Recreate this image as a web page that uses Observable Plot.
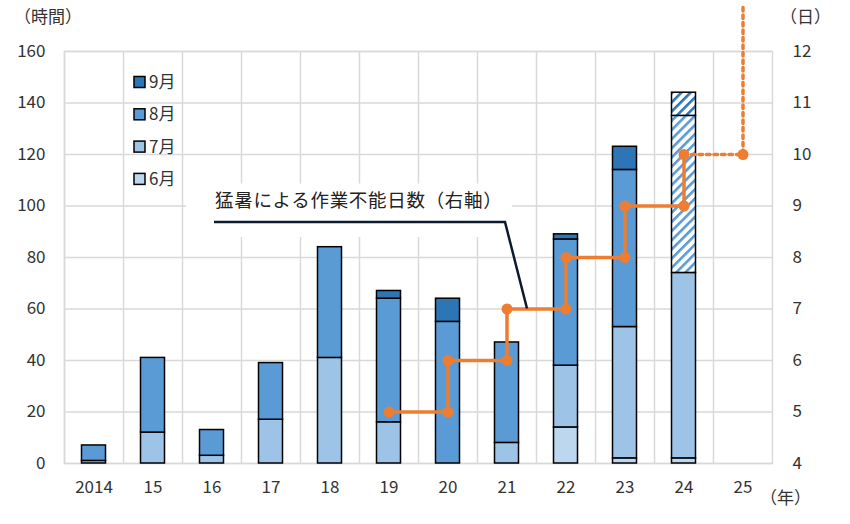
<!DOCTYPE html>
<html><head><meta charset="utf-8">
<script src="https://cdn.jsdelivr.net/npm/d3@7"></script>
<script src="https://cdn.jsdelivr.net/npm/@observablehq/plot@0.6"></script>
<style>
body{margin:0;background:#fff;}
#chart{width:850px;height:524px;}
</style></head><body><div id="chart"></div>
<script>
// ---- data ----
const years = ["2014","15","16","17","18","19","20","21","22","23","24","25"];
const jun = [0,0,0,0,0,0,0,0,14,2,2,0];
const jul = [1,12,3,17,41,16,0,8,24,51,72,0];
const aug = [6,29,10,22,43,48,55,39,49,61,61,0];
const sep = [0,0,0,0,0,3,9,0,2,9,9,0];
const hatchedYear = "24";
const months = ["6月","7月","8月","9月"];
const monthColors = ["#BDD7EE","#9DC3E6","#5B9BD5","#2E75B6"];
const lineYears = ["19","20","20","21","21","22","22","23","23","24","24"];
const lineDays = [5,5,6,6,7,7,8,8,9,9,10];
const dotYears = ["24","25","25"];
const dotDays = [10,10,12.9];
const leftTicks = [0,20,40,60,80,100,120,140,160];
const rightTicks = [4,5,6,7,8,9,10,11,12];
const annotationText = "猛暑による作業不能日数（右軸）";
const leftTitle = "（時間）", rightTitle = "（日）", xTitle = "（年）";

// ---- build tables ----
const series = [jun, jul, aug, sep];
const bars = [];
years.forEach((yr, i) => {
  series.forEach((s, m) => {
    if (s[i] > 0) {
      let fill = monthColors[m];
      if (yr === hatchedYear && m === 2) fill = "url(#hatch8)";
      if (yr === hatchedYear && m === 3) fill = "url(#hatch9)";
      bars.push({year: yr, month: months[m], value: s[i], fill});
    }
  });
});
const H = d => (d - 4) * 20; // right axis (days) -> left axis (hours)
const lineData = lineYears.map((y, i) => ({year: y, days: lineDays[i]}));
const dotData = dotYears.map((y, i) => ({year: y, days: dotDays[i]}));
const orange = "#ED7D31";
const grid = "#d9d9d9";
const font = "'Noto Sans CJK JP', 'Noto Sans', sans-serif";

const plot = Plot.plot({
  width: 850, height: 524,
  marginLeft: 64, marginRight: 78, marginTop: 51, marginBottom: 61,
  style: {fontFamily: font, fontSize: "17px", color: "#333", background: "white", overflow: "visible"},
  x: {domain: years, padding: 0, label: null},
  y: {domain: [0, 160], label: null},
  color: {type: "identity"},
  marks: [
    Plot.ruleY(leftTicks, {stroke: grid, strokeWidth: 1.5}),
    Plot.ruleX(years, {x: d => d, dx: -29.5, stroke: grid, strokeWidth: 1.5}),
    Plot.frame({stroke: grid, strokeWidth: 1.5}),
    Plot.axisX({tickSize: 0, tickPadding: 17, label: null, fontSize: 17}),
    Plot.axisY(leftTicks, {tickSize: 0, tickPadding: 19, label: null, fontSize: 17}),
    Plot.axisY(rightTicks.map(H), {anchor: "right", tickFormat: d => d / 20 + 4, tickSize: 0, tickPadding: 20, label: null, fontSize: 17}),
    Plot.barY(bars, {x: "year", y: "value", fill: "fill", stroke: "black", strokeWidth: 1.5, insetLeft: 17.5, insetRight: 17.5}),
    Plot.line(lineData, {x: "year", y: d => H(d.days), stroke: orange, strokeWidth: 3.5}),
    Plot.line(dotData, {x: "year", y: d => H(d.days), stroke: orange, strokeWidth: 3.5, strokeDasharray: "3.5,4", clip: false}),
    Plot.dot(lineData, {x: "year", y: d => H(d.days), r: 5.5, fill: orange}),
    Plot.dot(dotData.slice(1, 2), {x: "year", y: d => H(d.days), r: 5.5, fill: orange})
  ]
});
document.getElementById("chart").appendChild(plot);

// ---- patterns ----
const svg = d3.select(plot);
const defs = svg.insert("defs", ":first-child");
[["hatch8", "#5B9BD5"], ["hatch9", "#2E75B6"]].forEach(([id, c]) => {
  const p = defs.append("pattern").attr("id", id).attr("patternUnits", "userSpaceOnUse")
    .attr("width", 6.5).attr("height", 6.5).attr("patternTransform", "rotate(45)");
  p.append("rect").attr("width", 6.5).attr("height", 6.5).attr("fill", "white");
  p.append("rect").attr("width", 2.6).attr("height", 6.5).attr("fill", c);
});

// ---- annotation ----
const xs = plot.scale("x"), ys = plot.scale("y");
const bs = k => xs.apply(k); // band start
const ann = svg.append("g").attr("text-anchor", "start");
ann.append("rect")
  .attr("x", bs("16") + 4).attr("y", ys.apply(108.5))
  .attr("width", bs("21") + 35 - (bs("16") + 4)).attr("height", ys.apply(87.8) - ys.apply(108.5))
  .attr("fill", "white");
ann.append("text").attr("x", bs("16") + 33).attr("y", ys.apply(102)).attr("dy", "0.35em")
  .attr("font-family", font).attr("font-size", 18.5).attr("letter-spacing", "0.7px").attr("fill", "#222").text(annotationText);
ann.append("path")
  .attr("d", `M${bs("16") + 32},${ys.apply(93.6)}L${bs("21") + 28},${ys.apply(93.6)}L${bs("21") + 50},${ys.apply(H(7))}`)
  .attr("fill", "none").attr("stroke", "#0d1a2b").attr("stroke-width", 2.5);

// ---- legend ----
const leg = svg.append("g").attr("font-family", font).attr("font-size", 17).attr("fill", "#333").attr("text-anchor", "start");
const legRows = [3, 2, 1, 0];
legRows.forEach((m, i) => {
  const cy = 82 + i * 32.3;
  leg.append("rect").attr("x", bs("15") + 11).attr("y", cy - 5.5).attr("width", 11).attr("height", 11)
    .attr("fill", monthColors[m]).attr("stroke", "black").attr("stroke-width", 1.5);
  leg.append("text").attr("x", bs("15") + 26).attr("y", cy).attr("dy", "0.35em").text(months[m]);
});

// ---- axis titles ----
const ttl = svg.append("g").attr("font-family", font).attr("font-size", 17).attr("fill", "#333").attr("text-anchor", "start");
ttl.append("text").attr("x", 14).attr("y", 23).text(leftTitle);
ttl.append("text").attr("x", 780).attr("y", 23).text(rightTitle);
ttl.append("text").attr("x", 760).attr("y", 504).text(xTitle);
</script></body></html>
